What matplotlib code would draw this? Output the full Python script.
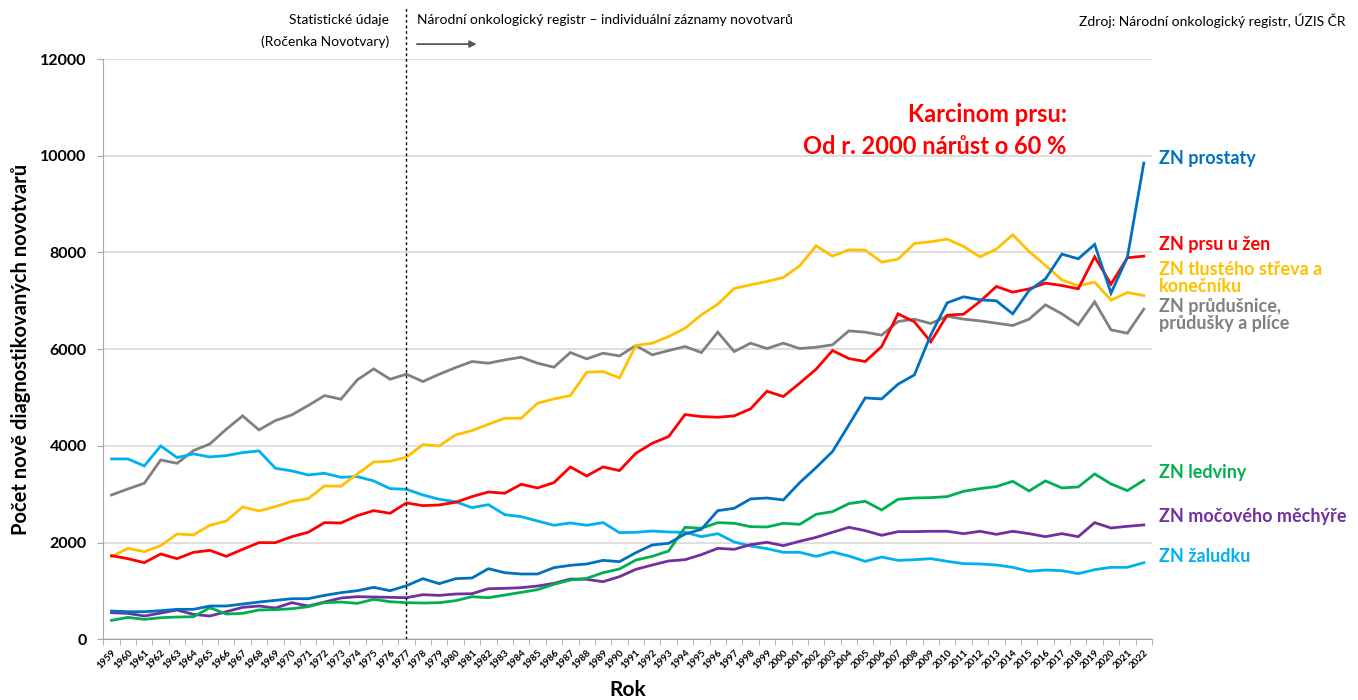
import numpy as np
import matplotlib.pyplot as plt
from matplotlib.ticker import MultipleLocator

plt.rcParams['font.family'] = ['Lato', 'DejaVu Sans']

years = np.arange(1959, 2023)

prostata = [586, 572, 572, 593, 621, 621, 690, 690, 731, 772, 807, 841, 841, 910, 966, 1007, 1076, 1007, 1110, 1255, 1152, 1255,
            1269, 1462, 1379, 1352, 1352, 1483, 1531, 1559, 1634, 1607, 1793, 1952, 1986, 2179, 2276, 2662, 2710, 2904, 2924,
            2883, 3241, 3552, 3883, 4435, 4993, 4972, 5276, 5469, 6297, 6959, 7083, 7021, 7000, 6731, 7214, 7455, 7966, 7869, 8166, 7159, 7903, 9848]
prs = [1731, 1669, 1586, 1766, 1669, 1800, 1841, 1717, 1862, 2000, 2000, 2124, 2214, 2414, 2407, 2559, 2662, 2607, 2821, 2766, 2779, 2835,
       2952, 3048, 3021, 3207, 3131, 3241, 3566, 3379, 3566, 3490, 3848, 4055, 4193, 4648, 4607, 4593, 4621, 4766, 5131,
       5021, 5297, 5586, 5972, 5807, 5745, 6055, 6731, 6566, 6152, 6703, 6724, 6986, 7297, 7179, 7248, 7366, 7317, 7248, 7910, 7345, 7890, 7924]
strevo = [1710, 1883, 1814, 1938, 2179, 2159, 2359, 2448, 2738, 2655, 2745, 2855, 2910, 3172, 3166, 3421, 3669, 3683, 3766, 4028, 4000, 4228,
          4317, 4448, 4572, 4572, 4883, 4972, 5041, 5524, 5538, 5407, 6076, 6124, 6262, 6434, 6710, 6931, 7255, 7331, 7400,
          7483, 7724, 8138, 7924, 8055, 8048, 7800, 7862, 8186, 8221, 8276, 8124, 7910, 8069, 8366, 8021, 7731, 7434, 7310, 7386, 7014, 7172, 7110]
plice = [2986, 3110, 3228, 3710, 3641, 3903, 4041, 4345, 4621, 4331, 4524, 4641, 4835, 5041, 4966, 5366, 5593, 5379, 5483, 5331, 5483, 5620,
         5745, 5710, 5779, 5834, 5710, 5628, 5931, 5800, 5917, 5862, 6076, 5883, 5972, 6055, 5931, 6352, 5952, 6124, 6014,
         6124, 6014, 6041, 6090, 6379, 6352, 6290, 6572, 6621, 6531, 6683, 6621, 6586, 6538, 6490, 6621, 6917, 6731, 6503, 6979, 6400, 6331, 6828]
ledviny = [393, 455, 414, 448, 462, 469, 655, 524, 538, 607, 614, 634, 676, 759, 772, 745, 828, 779, 759, 752, 759, 800,
           883, 862, 917, 972, 1028, 1138, 1228, 1262, 1379, 1455, 1641, 1717, 1828, 2317, 2297, 2414, 2400, 2331, 2324,
           2400, 2379, 2586, 2641, 2807, 2855, 2676, 2897, 2924, 2931, 2952, 3062, 3117, 3159, 3269, 3069, 3276, 3131, 3152, 3421, 3214, 3076, 3290]
mechyr = [552, 538, 483, 545, 607, 517, 483, 572, 662, 690, 648, 759, 690, 772, 855, 883, 876, 869, 862, 924, 910, 938,
          945, 1048, 1055, 1069, 1103, 1159, 1248, 1241, 1193, 1297, 1448, 1538, 1621, 1648, 1752, 1883, 1862, 1959, 2007,
          1938, 2028, 2110, 2214, 2317, 2248, 2152, 2228, 2228, 2235, 2235, 2186, 2235, 2172, 2235, 2186, 2124, 2186, 2124, 2414, 2303, 2338, 2366]
zaludek = [3731, 3731, 3586, 4000, 3759, 3835, 3772, 3800, 3862, 3897, 3538, 3483, 3400, 3434, 3352, 3366, 3276, 3117, 3103, 2986, 2897, 2845,
           2724, 2786, 2579, 2538, 2448, 2359, 2407, 2359, 2414, 2207, 2214, 2241, 2221, 2214, 2124, 2186, 2014, 1931, 1876,
           1800, 1800, 1717, 1807, 1724, 1614, 1703, 1634, 1648, 1669, 1614, 1566, 1559, 1538, 1490, 1407, 1434, 1421, 1359, 1441, 1490, 1490, 1586]

# series: data, colour, label, label y position
series = [
    (plice, '#808080', 'ZN průdušnice,\nprůdušky a plíce', 6700),
    (zaludek, '#00B0F0', 'ZN žaludku', 1720),
    (strevo, '#FFC000', 'ZN tlustého střeva a\nkonečníku', 7480),
    (prs, '#FF0000', 'ZN prsu u žen', 8170),
    (mechyr, '#7030A0', 'ZN močového měchýře', 2540),
    (ledviny, '#00B050', 'ZN ledviny', 3450),
    (prostata, '#0070C0', 'ZN prostaty', 9950),
]

fig = plt.figure(figsize=(13.58, 7.0), dpi=100)
ax = fig.add_axes([0.0761, 0.0866, 0.7722, 0.8291])

for vals, col, lab, ly in series:
    ax.plot(years, vals, color=col, linewidth=2.0, solid_joinstyle='miter')
    ax.text(2022.9, ly, lab, color=col, fontsize=13, fontweight='bold',
            va='center', ha='left', linespacing=1.0)

ax.set_xlim(1958.5, 2022.5)
ax.set_ylim(0, 12000)
ax.yaxis.set_major_locator(MultipleLocator(2000))
ax.grid(axis='y', color='#d9d9d9', linewidth=1.2)
ax.set_axisbelow(True)

ax.set_xticks(years)
ax.set_xticklabels([str(y) for y in years], rotation=45, ha='right',
                   rotation_mode='anchor', fontsize=7, fontweight='bold')
ax.set_xticks(np.arange(1958.5, 2023.0, 1.0), minor=True)
ax.tick_params(axis='x', which='major', length=0, pad=6)
ax.tick_params(axis='x', which='minor', length=4, color='#a6a6a6')
ax.tick_params(axis='y', length=4, color='#a6a6a6', labelsize=11.5, pad=8)
for t in ax.get_yticklabels():
    t.set_fontweight('bold')

for s in ['top', 'right']:
    ax.spines[s].set_visible(False)
for s in ['left', 'bottom']:
    ax.spines[s].set_color('#a6a6a6')

ax.set_ylabel('Počet nově diagnostikovaných novotvarů', fontsize=14.5,
              fontweight='bold', labelpad=7)
ax.set_xlabel('Rok', fontsize=15, fontweight='bold', labelpad=7)

# boundary between data sources
ax.plot([1977, 1977], [0, 13100], color='black', linestyle=(0, (2, 2)),
        linewidth=1.0, clip_on=False)

fig.text(0.2865, 0.971, 'Statistické údaje', ha='right', va='center', fontsize=10)
fig.text(0.2865, 0.940, '(Ročenka Novotvary)', ha='right', va='center', fontsize=10)
fig.text(0.307, 0.971, 'Národní onkologický registr – individuální záznamy novotvarů',
         ha='left', va='center', fontsize=10)
ax.annotate('', xy=(0.351, 0.937), xytext=(0.307, 0.937), xycoords='figure fraction',
            arrowprops=dict(arrowstyle='-|>', color='#595959', lw=1.3,
                            mutation_scale=10, shrinkA=0, shrinkB=0))
fig.text(0.991, 0.971, 'Zdroj: Národní onkologický registr, ÚZIS ČR',
         ha='right', va='center', fontsize=10)

ax.text(2017.3, 10850, 'Karcinom prsu:', color='#FF0000', fontsize=17,
        fontweight='bold', ha='right', va='center')
ax.text(2017.3, 10200, 'Od r. 2000 nárůst o 60 %', color='#FF0000', fontsize=17,
        fontweight='bold', ha='right', va='center')

fig.savefig('out.png', dpi=100)
